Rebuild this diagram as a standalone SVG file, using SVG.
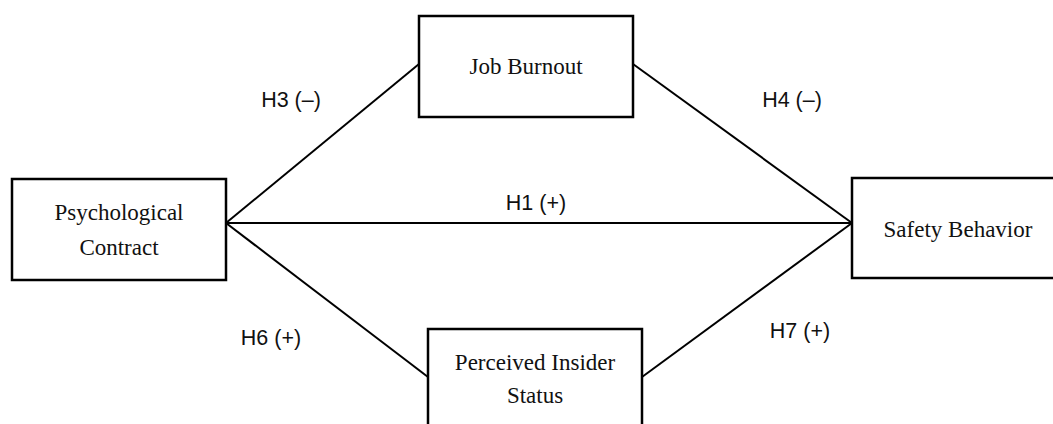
<svg xmlns="http://www.w3.org/2000/svg" width="1053" height="424" viewBox="0 0 1053 424">
<style>
.box{fill:#fff;stroke:#000;stroke-width:2.5}
.edge{stroke:#000;stroke-width:2;fill:none}
.nt{font-family:"Liberation Serif","Times New Roman",serif;font-size:23px;fill:#111;text-anchor:middle}
.lb{font-family:"Liberation Sans",Arial,sans-serif;font-size:21.5px;fill:#111;text-anchor:middle}
</style>
<rect width="1053" height="424" fill="#fff"/>
<g id="connectors">
<line class="edge" x1="226" y1="223" x2="419" y2="64"/>
<line class="edge" x1="633" y1="64" x2="852" y2="223"/>
<line class="edge" x1="226" y1="223" x2="852" y2="223"/>
<line class="edge" x1="226" y1="223" x2="428" y2="377"/>
<line class="edge" x1="642" y1="377" x2="852" y2="223"/>
<text class="lb" x="291" y="107">H3 (–)</text>
<text class="lb" x="792" y="107">H4 (–)</text>
<text class="lb" x="536" y="210">H1 (+)</text>
<text class="lb" x="271" y="345">H6 (+)</text>
<text class="lb" x="800" y="338">H7 (+)</text>
</g>
<g id="psychological-contract">
<rect class="box" x="12" y="179" width="214" height="101"/>
<text class="nt" x="119" y="220">Psychological</text>
<text class="nt" x="119" y="255">Contract</text>
</g>
<g id="job-burnout">
<rect class="box" x="419" y="16" width="214" height="101"/>
<text class="nt" x="526" y="74">Job Burnout</text>
</g>
<g id="safety-behavior">
<rect class="box" x="852" y="178" width="220" height="100"/>
<text class="nt" x="958" y="237">Safety Behavior</text>
</g>
<g id="perceived-insider-status">
<rect class="box" x="428" y="329" width="214" height="110"/>
<text class="nt" x="535" y="370">Perceived Insider</text>
<text class="nt" x="535" y="403">Status</text>
</g>
</svg>
